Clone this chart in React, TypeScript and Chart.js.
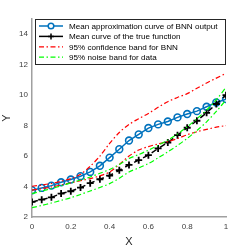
import React, { useEffect, useRef } from "react";
import { Chart, registerables } from "chart.js";
Chart.register(...registerables);

const xValues = [0, 0.05, 0.1, 0.15, 0.2, 0.25, 0.3, 0.35, 0.4, 0.45, 0.5, 0.55, 0.6, 0.65, 0.7, 0.75, 0.8, 0.85, 0.9, 0.95, 1];
const bnnMean = [3.76, 3.91, 4.06, 4.28, 4.46, 4.68, 4.96, 5.36, 5.9, 6.45, 7.02, 7.42, 7.84, 8.08, 8.27, 8.54, 8.76, 8.95, 9.24, 9.52, 9.74];
const trueMean = [2.99, 3.14, 3.29, 3.54, 3.69, 3.93, 4.22, 4.48, 4.72, 5.07, 5.42, 5.73, 6.06, 6.5, 6.89, 7.37, 7.86, 8.32, 8.84, 9.42, 10.0];
const ciUpper = [4.02, 4.1, 4.2, 4.35, 4.52, 4.8, 5.33, 6.0, 6.83, 7.55, 8.08, 8.45, 8.8, 9.2, 9.57, 9.85, 10.1, 10.45, 10.8, 11.12, 11.43];
const ciLower = [3.76, 3.86, 3.97, 4.1, 4.24, 4.38, 4.52, 4.7, 4.95, 5.45, 6.0, 6.4, 6.62, 6.8, 6.95, 7.15, 7.4, 7.6, 7.75, 7.9, 8.0];
const noiseUpper = [3.54, 3.7, 3.86, 4.05, 4.24, 4.43, 4.63, 4.87, 5.12, 5.45, 5.84, 6.1, 6.39, 6.7, 7.05, 7.45, 7.92, 8.45, 9.02, 9.7, 10.51];
const noiseLower = [2.61, 2.76, 2.92, 3.09, 3.27, 3.48, 3.71, 3.94, 4.19, 4.55, 4.96, 5.22, 5.51, 5.88, 6.28, 6.7, 7.16, 7.68, 8.25, 8.93, 9.68];
const seriesLabels = [
  "Mean approximation curve of BNN output",
  "Mean curve of the true function",
  "95% confidence band for BNN",
  "95% noise band for data",
];
const xTicks = [0, 0.2, 0.4, 0.6, 0.8, 1];
const yTicks = [2, 4, 6, 8, 10, 12, 14];
const xTitle = "X";
const yTitle = "Y";

const BLUE = "#0072BD";
const RED = "#FF0000";
const GREEN = "#00FF00";
const DASHDOT = [5, 2.5, 1.5, 2.5];

const pts = (ys: number[]) => xValues.map((x, i) => ({ x, y: ys[i] }));

const legendPlugin = {
  id: "boxLegend",
  afterDraw(chart: any) {
    const ctx = chart.ctx as CanvasRenderingContext2D;
    const area = chart.chartArea;
    const x0 = area.left + 3;
    const y0 = area.top;
    const w = area.right - x0;
    const h = 46;
    ctx.save();
    ctx.fillStyle = "#ffffff";
    ctx.fillRect(x0, y0, w, h);
    ctx.strokeStyle = "#262626";
    ctx.lineWidth = 1;
    ctx.strokeRect(x0 + 0.5, y0 + 0.5, w - 1, h - 1);
    const rowH = 10.4;
    ctx.font = "8.1px 'Liberation Sans', Arial, sans-serif";
    ctx.textBaseline = "middle";
    const items = [
      { color: BLUE, dash: [] as number[], marker: "circle", width: 1.5 },
      { color: "#000000", dash: [] as number[], marker: "plus", width: 1.5 },
      { color: RED, dash: DASHDOT, marker: "", width: 1.2 },
      { color: GREEN, dash: DASHDOT, marker: "", width: 1.2 },
    ];
    items.forEach((it, i) => {
      const cy = y0 + 7 + i * rowH;
      const lx0 = x0 + 4;
      const lx1 = x0 + 28;
      ctx.strokeStyle = it.color;
      ctx.lineWidth = it.width;
      ctx.setLineDash(it.dash);
      ctx.beginPath();
      ctx.moveTo(lx0, cy);
      ctx.lineTo(lx1, cy);
      ctx.stroke();
      ctx.setLineDash([]);
      const mx = (lx0 + lx1) / 2;
      if (it.marker === "circle") {
        ctx.fillStyle = "#fff";
        ctx.beginPath();
        ctx.arc(mx, cy, 2.8, 0, Math.PI * 2);
        ctx.fill();
        ctx.stroke();
      } else if (it.marker === "plus") {
        ctx.beginPath();
        ctx.moveTo(mx - 3, cy);
        ctx.lineTo(mx + 3, cy);
        ctx.moveTo(mx, cy - 3);
        ctx.lineTo(mx, cy + 3);
        ctx.stroke();
      }
      ctx.fillStyle = "#000";
      ctx.fillText(seriesLabels[i], x0 + 34, cy + 0.5);
    });
    ctx.restore();
  },
};

export default function App() {
  const ref = useRef<HTMLCanvasElement>(null);
  useEffect(() => {
    if (!ref.current) return;
    const tickFont = { family: "'Liberation Sans', Arial, sans-serif", size: 8 };
    const band = (label: string, data: number[], color: string, order: number) => ({
      label,
      data: pts(data),
      borderColor: color,
      borderWidth: 1.2,
      borderDash: DASHDOT,
      pointRadius: 0,
      tension: 0.3,
      order,
    });
    const chart = new Chart(ref.current, {
      type: "line",
      data: {
        datasets: [
          {
            label: seriesLabels[0],
            data: pts(bnnMean),
            borderColor: BLUE,
            backgroundColor: "rgba(0,0,0,0)",
            borderWidth: 1.5,
            pointStyle: "circle",
            pointRadius: 3.4,
            pointBorderWidth: 1.6,
            pointBorderColor: BLUE,
            pointBackgroundColor: "rgba(0,0,0,0)",
            tension: 0,
            order: 4,
          },
          {
            label: seriesLabels[1],
            data: pts(trueMean),
            borderColor: "#000",
            borderWidth: 1.5,
            borderDash: [6, 4],
            pointStyle: "cross",
            pointRadius: 3.5,
            pointBorderWidth: 1.8,
            pointBorderColor: "#000",
            tension: 0,
            order: 3,
          },
          band(seriesLabels[2], ciUpper, RED, 2),
          band(seriesLabels[2] + " lower", ciLower, RED, 2),
          band(seriesLabels[3], noiseUpper, GREEN, 1),
          band(seriesLabels[3] + " lower", noiseLower, GREEN, 1),
        ],
      },
      options: {
        animation: false,
        responsive: true,
        maintainAspectRatio: false,
        layout: { padding: { top: 19, right: 23, left: 0, bottom: 0 } },
        plugins: { legend: { display: false }, tooltip: { enabled: false } },
        scales: {
          x: {
            type: "linear",
            min: 0,
            max: 1,
            afterBuildTicks: (s: any) => {
              s.ticks = xTicks.map((v) => ({ value: v }));
            },
            afterFit: (s: any) => {
              s.height = 32;
            },
            grid: { display: false, drawTicks: false, tickLength: 0 },
            border: { display: true, color: "#a0a0a0", width: 1.5 },
            ticks: {
              font: tickFont,
              color: "#404040",
              padding: 5,
              maxRotation: 0,
              callback: (v: any) => String(v),
            },
            title: {
              display: true,
              text: xTitle,
              font: { family: "'Liberation Sans', Arial, sans-serif", size: 11 },
              color: "#262626",
              padding: { top: 0, bottom: 0 },
            },
          },
          y: {
            type: "linear",
            min: 2,
            max: 15,
            afterBuildTicks: (s: any) => {
              s.ticks = yTicks.map((v) => ({ value: v }));
            },
            afterFit: (s: any) => {
              s.width = 32;
            },
            grid: { display: false, drawTicks: false, tickLength: 0 },
            border: { display: true, color: "#a0a0a0", width: 1.5 },
            ticks: {
              font: tickFont,
              color: "#404040",
              padding: 4,
              callback: (v: any) => String(v),
            },
            title: {
              display: true,
              text: yTitle,
              font: { family: "'Liberation Sans', Arial, sans-serif", size: 11 },
              color: "#262626",
              padding: { top: 0, bottom: 0 },
            },
          },
        },
      },
      plugins: [legendPlugin],
    } as any);
    return () => chart.destroy();
  }, []);
  return (
    <div style={{ position: "fixed", left: 0, top: 0, width: 249, height: 249, background: "#fff" }}>
      <canvas ref={ref} />
    </div>
  );
}
